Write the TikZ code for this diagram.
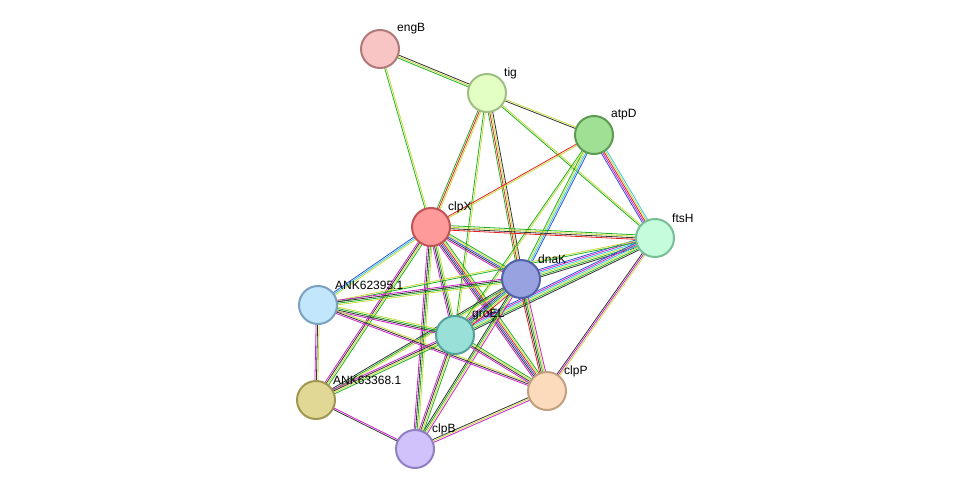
\documentclass[tikz,border=0pt]{standalone}
\usepackage{fontspec}
\setmainfont{Liberation Sans}
\usetikzlibrary{calc,backgrounds}
\definecolor{eG}{HTML}{22B022}
\definecolor{eY}{HTML}{C8DC3C}
\definecolor{eK}{HTML}{333333}
\definecolor{eM}{HTML}{D020D0}
\definecolor{eB}{HTML}{3050E0}
\definecolor{eC}{HTML}{30C8E8}
\definecolor{eR}{HTML}{E82020}
\tikzset{prot/.style={circle,minimum size=38pt,inner sep=0pt,line width=2pt},
 lbl/.style={anchor=west,font=\fontsize{12}{14}\selectfont,inner sep=0pt}}
\newcommand\prot[5]{\definecolor{f#1}{HTML}{#4}\definecolor{d#1}{HTML}{#5}%
 \node[prot,fill=f#1,draw=d#1] (#1) at (#2) {};
 \node[lbl] (#1l) at ($(#1)+(17,-20)$) {#3};}
\newcommand\edg[3]{%
 \xdef\nn{0}\foreach \c in {#3}{\pgfmathtruncatemacro\t{\nn+1}\xdef\nn{\t}}%
 \foreach \c [count=\i] in {#3}{\pgfmathsetmacro\o{(\i-(\nn+1)/2)*1.5}%
 \draw[draw=\c,line width=0.8pt] ($(#1)!\o pt!90:(#2)$) -- ($(#2)!\o pt!-90:(#1)$);}}
\begin{document}
\begin{tikzpicture}[x=1pt,y=-1pt]
\useasboundingbox (0,0) rectangle (975,495);
\prot{engB}{380,49}{engB}{F8C4C4}{B07A7A}
\prot{tig}{487,93}{tig}{E4FFC4}{A0BE84}
\prot{atpD}{594,135}{atpD}{A0E094}{5C9A52}
\prot{clpX}{431,227}{clpX}{FF9A9A}{C05454}
\prot{ftsH}{655,238}{ftsH}{C4FCDC}{78BE96}
\prot{dnaK}{521,279}{dnaK}{98A2E0}{5262A6}
\prot{ANK62395}{318,305}{ANK62395.1}{C2E6FC}{7AA2C0}
\prot{groEL}{455,335}{groEL}{98E0D8}{54A29A}
\prot{clpP}{547,391}{clpP}{FCDABC}{C0A07E}
\prot{ANK63368}{316,400}{ANK63368.1}{E0D894}{A09852}
\prot{clpB}{415,449}{clpB}{D2C2FC}{9080C2}
\begin{scope}[on background layer]
\edg{engB}{tig}{eG,eY,eK}
\edg{engB}{clpX}{eG,eY}
\edg{tig}{atpD}{eK,eY}
\edg{tig}{clpX}{eG,eR,eY}
\edg{tig}{ftsH}{eG,eY}
\edg{tig}{dnaK}{eG,eR,eY,eK}
\edg{tig}{groEL}{eG,eY}
\edg{atpD}{ftsH}{eB,eM,eR,eY,eC}
\edg{atpD}{clpX}{eR,eY}
\edg{atpD}{dnaK}{eG,eY,eC,eB}
\edg{atpD}{groEL}{eG,eY}
\edg{clpX}{ftsH}{eR,eK,eY,eG}
\edg{clpX}{dnaK}{eM,eK,eB,eY,eG}
\edg{clpX}{ANK62395}{eB,eC,eY}
\edg{clpX}{groEL}{eM,eK,eG,eY}
\edg{clpX}{clpP}{eM,eK,eB,eR,eY,eG}
\edg{clpX}{ANK63368}{eM,eK,eY,eG}
\edg{clpX}{clpB}{eM,eK,eG,eY}
\edg{ftsH}{dnaK}{eB,eM,eC,eY,eG,eK}
\edg{ftsH}{groEL}{eB,eM,eC,eY,eG,eK}
\edg{ftsH}{clpP}{eK,eM,eY}
\edg{ftsH}{ANK62395}{eY,eG}
\edg{dnaK}{ANK62395}{eM,eK,eG,eY}
\edg{dnaK}{groEL}{eM,eK,eB,eG,eY,eR}
\edg{dnaK}{clpP}{eR,eK,eG,eY,eM}
\edg{dnaK}{ANK63368}{eK,eG,eY}
\edg{dnaK}{clpB}{eK,eG,eY,eM}
\edg{ANK62395}{groEL}{eM,eK,eG,eY}
\edg{ANK62395}{clpP}{eM,eK,eY}
\edg{ANK62395}{ANK63368}{eM,eK,eY}
\edg{groEL}{clpP}{eM,eK,eY,eG}
\edg{groEL}{ANK63368}{eM,eK,eY,eG}
\edg{groEL}{clpB}{eM,eK,eY,eG}
\edg{clpP}{clpB}{eK,eY,eM}
\edg{ANK63368}{clpB}{eK,eM}
\end{scope}
\end{tikzpicture}
\end{document}
